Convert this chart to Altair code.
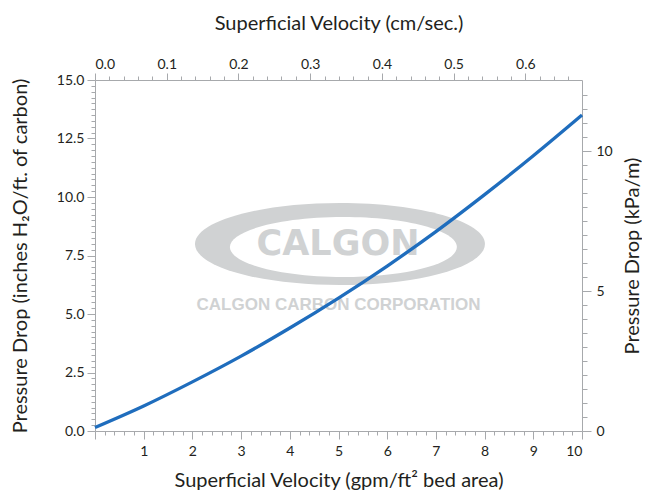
import altair as alt
import pandas as pd

# ---- data ----
gpm = [0, 1, 2, 3, 4, 5, 6, 7, 8, 9, 10]
dp_in = [0.15, 1.07, 2.1, 3.2, 4.4, 5.68, 7.05, 8.52, 10.1, 11.76, 13.5]

# axis tick values
bottom_major = [0, 1, 2, 3, 4, 5, 6, 7, 8, 9, 10]
bottom_minor = [round(i * 0.2, 1) for i in range(51) if i % 5]
left_major = [0, 2.5, 5, 7.5, 10, 12.5, 15]
left_minor = [i * 0.25 for i in range(61) if i % 10]
top_major = [0.0, 0.1, 0.2, 0.3, 0.4, 0.5, 0.6]
top_minor = [round(i * 0.02, 2) for i in range(34) if i % 5]
right_major = [0, 5, 10]
right_minor = [i * 0.5 for i in range(25) if i % 10]

# watermark (in data units of the main axes)
logo_outer_x, logo_outer_y = [5.03], [7.99]
logo_inner_x, logo_inner_y = [5.10], [7.86]
logo_word = ["CALGON"]
logo_word_x, logo_word_y = [4.99], [7.52]
logo_corp = ["CALGON CARBON CORPORATION"]
logo_corp_x, logo_corp_y = [5.0], [5.17]

GPM_TO_CMS = 0.0679
IN_TO_KPA = 1 / 1.195

df = pd.DataFrame({"gpm": gpm, "dp": dp_in})

FONT = "Lato"
AX = "#a7a9ac"
TXT = "#231f20"
BLUE = "#1f6dbd"
GRAY = "#d0d2d3"


def ax(**kw):
    base = dict(grid=False, domainColor=AX, tickColor=AX, labelColor=TXT,
                titleColor=TXT, labelFont=FONT, titleFont=FONT,
                labelFontSize=14, titleFontSize=20, titleFontWeight="normal",
                domainWidth=1, tickWidth=1)
    base.update(kw)
    return alt.Axis(**base)


gpm_scale = alt.Scale(domain=[0, 10], nice=False, zero=False)
in_scale = alt.Scale(domain=[0, 15], nice=False, zero=False)
cms_scale = alt.Scale(domain=[0, 10 * GPM_TO_CMS], nice=False, zero=False)
kpa_scale = alt.Scale(domain=[0, 15 * IN_TO_KPA], nice=False, zero=False)


def ellipse_path(ry):
    k = 0.5523
    return (f"M -1 0 C -1 {-k*ry:.4f} {-k:.4f} {-ry:.4f} 0 {-ry:.4f} "
            f"C {k:.4f} {-ry:.4f} 1 {-k*ry:.4f} 1 0 "
            f"C 1 {k*ry:.4f} {k:.4f} {ry:.4f} 0 {ry:.4f} "
            f"C {-k:.4f} {ry:.4f} -1 {k*ry:.4f} -1 0 Z")


def pos(xf, yf):
    return dict(x=alt.X(f"{xf}:Q", scale=gpm_scale, axis=None),
                y=alt.Y(f"{yf}:Q", scale=in_scale, axis=None))


outer = alt.Chart(pd.DataFrame({"x": logo_outer_x, "y": logo_outer_y})).mark_point(
    shape=ellipse_path(0.283), size=290 ** 2, filled=True, color=GRAY,
    opacity=1, strokeWidth=0).encode(**pos("x", "y"))
inner = alt.Chart(pd.DataFrame({"x": logo_inner_x, "y": logo_inner_y})).mark_point(
    shape=ellipse_path(0.264), size=227 ** 2, filled=True, color="white",
    opacity=1, strokeWidth=0).encode(**pos("x", "y"))
word = alt.Chart(pd.DataFrame({"x": logo_word_x, "y": logo_word_y, "t": logo_word})).mark_text(
    font="DejaVu Sans", fontWeight="bold", fontSize=35, color=GRAY,
    baseline="alphabetic", align="center").encode(text="t:N", **pos("x", "y"))
corp = alt.Chart(pd.DataFrame({"x": logo_corp_x, "y": logo_corp_y, "t": logo_corp})).mark_text(
    font="Liberation Sans", fontWeight="bold", fontSize=17, color=GRAY,
    baseline="alphabetic", align="center").encode(text="t:N", **pos("x", "y"))

minor_main = alt.Chart(df).mark_point(opacity=0).encode(
    x=alt.X("gpm:Q", scale=gpm_scale,
            axis=ax(orient="bottom", values=bottom_minor, tickSize=4,
                    labels=False, domain=False, title=None)),
    y=alt.Y("dp:Q", scale=in_scale,
            axis=ax(orient="left", values=left_minor, tickSize=4,
                    labels=False, domain=False, title=None)),
)

line = alt.Chart(df).mark_line(color=BLUE, strokeWidth=3.3, interpolate="monotone").encode(
    x=alt.X("gpm:Q", scale=gpm_scale,
            axis=ax(orient="bottom", values=bottom_major, tickSize=8,
                    labelPadding=5, labelExpr="datum.value == 0 ? '' : datum.label",
                    title="Superficial Velocity (gpm/ft² bed area)",
                    titlePadding=12)),
    y=alt.Y("dp:Q", scale=in_scale,
            axis=ax(orient="left", values=left_major, tickSize=8, format=".1f",
                    labelPadding=3,
                    title="Pressure Drop (inches H₂O/ft. of carbon)",
                    titlePadding=26)),
)

sec = alt.Chart(df).transform_calculate(
    cms=f"datum.gpm * {GPM_TO_CMS}", kpa=f"datum.dp * {IN_TO_KPA}"
)

minor_sec = sec.mark_point(opacity=0).encode(
    x=alt.X("cms:Q", scale=cms_scale,
            axis=ax(orient="top", values=top_minor, tickSize=4,
                    labels=False, domain=False, title=None)),
    y=alt.Y("kpa:Q", scale=kpa_scale,
            axis=ax(orient="right", values=right_minor, tickSize=5,
                    labels=False, domain=False, title=None)),
)

major_sec = sec.mark_point(opacity=0).encode(
    x=alt.X("cms:Q", scale=cms_scale,
            axis=ax(orient="top", values=top_major, tickSize=7, format=".1f",
                    labelPadding=2,
                    title="Superficial Velocity (cm/sec.)", titlePadding=24)),
    y=alt.Y("kpa:Q", scale=kpa_scale,
            axis=ax(orient="right", values=right_major, tickSize=9, format="d",
                    labelPadding=5, title="Pressure Drop (kPa/m)",
                    titleAngle=270, titleBaseline="top", titlePadding=10)),
)

chart = alt.layer(
    outer, inner, word, corp, minor_main, line, minor_sec, major_sec
).resolve_scale(
    x="independent", y="independent"
).properties(
    width=487, height=351,
    autosize=alt.AutoSizeParams(type="none"),
    padding={"left": 87, "top": 72, "right": 60, "bottom": 59},
).configure_view(stroke=None)

chart.save("out.html", embed_options={"renderer": "svg", "actions": False})
